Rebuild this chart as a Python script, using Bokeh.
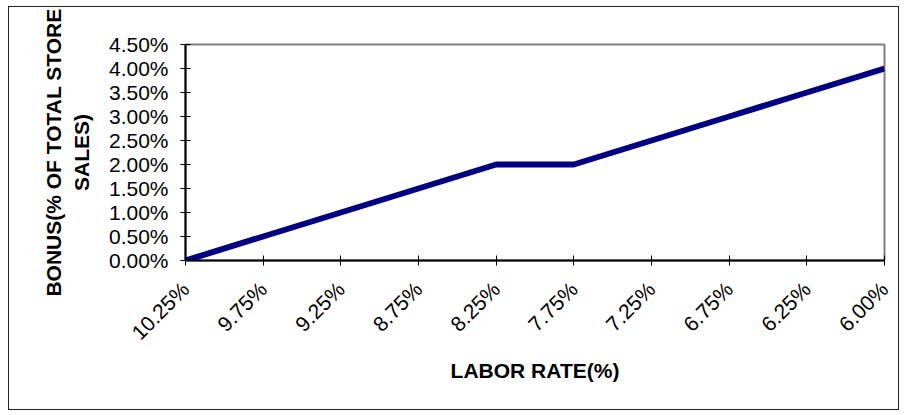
from math import pi
from bokeh.plotting import figure
from bokeh.models import FixedTicker, NumeralTickFormatter, Range1d
from bokeh.embed import file_html
from bokeh.resources import INLINE

labor_rates = ["10.25%", "9.75%", "9.25%", "8.75%", "8.25%", "7.75%", "7.25%", "6.75%", "6.25%", "6.00%"]
bonus_pct = [0.0, 0.5, 1.0, 1.5, 2.0, 2.0, 2.5, 3.0, 3.5, 4.0]
y_ticks_pct = [0.0, 0.5, 1.0, 1.5, 2.0, 2.5, 3.0, 3.5, 4.0, 4.5]

x = list(range(len(labor_rates)))
y = [v / 100 for v in bonus_pct]

FONT = "Liberation Sans"
FS = "21px"

p = figure(width=891, height=404, output_backend="svg", toolbar_location=None,
           x_range=Range1d(0, len(labor_rates) - 1), y_range=Range1d(0, 0.045),
           min_border_left=176, min_border_right=16, min_border_top=37, min_border_bottom=151)
p.styles = {"border": "1px solid #222222", "margin-left": "8px", "margin-top": "6px"}
p.background_fill_color = "white"
p.border_fill_color = "white"
p.outline_line_color = "#808080"
p.outline_line_width = 2
p.xgrid.visible = False
p.ygrid.visible = False

p.line(x, y, line_color="#000080", line_width=6)

xa = p.xaxis[0]
xa.ticker = FixedTicker(ticks=x)
xa.major_label_overrides = {i: lab for i, lab in enumerate(labor_rates)}
xa.major_label_orientation = pi / 4
xa.major_label_text_font = FONT
xa.major_label_text_font_size = FS
xa.major_label_text_color = "black"
xa.major_label_standoff = 20
xa.major_tick_in = 5
xa.major_tick_out = 5
xa.minor_tick_line_color = None
xa.axis_line_color = "black"
xa.axis_line_width = 2
xa.major_tick_line_color = "black"
xa.axis_label = "LABOR RATE(%)"
xa.axis_label_text_font = FONT
xa.axis_label_text_font_style = "bold"
xa.axis_label_text_font_size = FS
xa.axis_label_text_color = "black"
xa.axis_label_standoff = 4

ya = p.yaxis[0]
ya.ticker = FixedTicker(ticks=[v / 100 for v in y_ticks_pct])
ya.formatter = NumeralTickFormatter(format="0.00%")
ya.major_label_text_font = FONT
ya.major_label_text_font_size = FS
ya.major_label_text_color = "black"
ya.major_label_standoff = 12
ya.major_tick_in = 5
ya.major_tick_out = 5
ya.minor_tick_line_color = None
ya.axis_line_color = "black"
ya.axis_line_width = 2
ya.major_tick_line_color = "black"
ya.axis_label = "BONUS(% OF TOTAL STORE\nSALES)"
ya.axis_label_text_font = FONT
ya.axis_label_text_font_style = "bold"
ya.axis_label_text_font_size = FS
ya.axis_label_text_color = "black"
ya.axis_label_standoff = 13

open("out.html", "w").write(file_html(p, INLINE))
